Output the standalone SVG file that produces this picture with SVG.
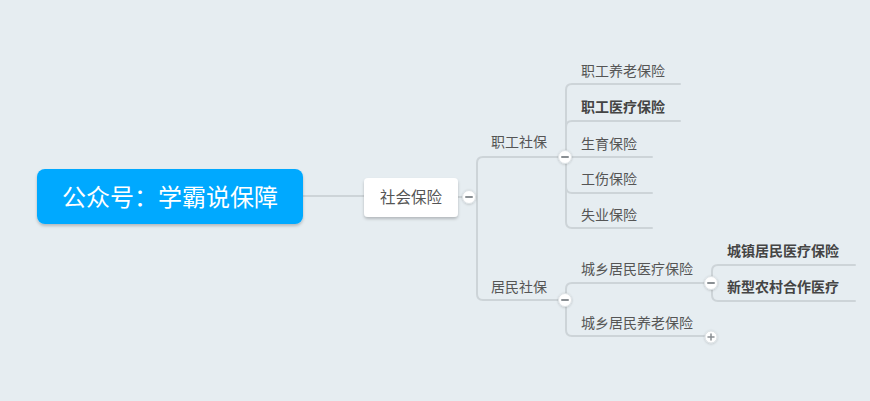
<svg xmlns="http://www.w3.org/2000/svg" width="870" height="401" viewBox="0 0 870 401">
<defs>
<filter id="sh" x="-20%" y="-30%" width="140%" height="170%">
<feDropShadow dx="0" dy="2" stdDeviation="1.5" flood-color="#000" flood-opacity="0.22"/>
</filter>
<filter id="cs" x="-50%" y="-50%" width="200%" height="200%">
<feDropShadow dx="0" dy="0.5" stdDeviation="0.8" flood-color="#000" flood-opacity="0.2"/>
</filter>
<style>
.ln{fill:none;stroke:#cdd4d8;stroke-width:2;stroke-linecap:round}
.t{font-family:"Microsoft YaHei","Noto Sans CJK SC",sans-serif;font-size:14px;fill:#555}
.b{font-weight:bold;fill:#444}
.cc{fill:#fff;stroke:#dde2e5;stroke-width:1;filter:url(#cs)}
.cm{stroke:#8a8f93;stroke-width:2;stroke-linecap:round}
</style>
</defs>
<rect width="870" height="401" fill="#e6edf1"/>
<g id="connectors">
<path class="ln" d="M303,196 H364"/>
<path class="ln" d="M458,197 H477"/>
<path class="ln" d="M565,157 H483 Q477,157 477,163 V294 Q477,300 483,300 H565"/>
<path class="ln" d="M566,157 V90 Q566,84 572,84 H680"/>
<path class="ln" d="M566,157 V127 Q566,121 572,121 H680"/>
<path class="ln" d="M565,157 H652"/>
<path class="ln" d="M566,157 V187 Q566,193 572,193 H652"/>
<path class="ln" d="M566,157 V222 Q566,228 572,228 H652"/>
<path class="ln" d="M566,300 V289 Q566,283 572,283 H711"/>
<path class="ln" d="M566,300 V330 Q566,336 572,336 H711"/>
<path class="ln" d="M712,283 V271 Q712,265 718,265 H855"/>
<path class="ln" d="M712,283 V295 Q712,301 718,301 H855"/>
</g>
<g id="root">
<rect x="37" y="169" width="266" height="55" rx="8" fill="#00a9ff" filter="url(#sh)"/>
<text x="170" y="206" text-anchor="middle" font-family="'Microsoft YaHei','Noto Sans CJK SC',sans-serif" font-size="24" fill="#fff">公众号：学霸说保障</text>
</g>
<g id="shehuibaoxian">
<rect x="364" y="178" width="94" height="39" rx="4" fill="#fff" filter="url(#sh)"/>
<text x="411" y="203" text-anchor="middle" class="t" style="font-size:15.5px">社会保险</text>
<circle class="cc" cx="469" cy="197" r="6.5"/>
<path class="cm" d="M466,197 H472"/>
</g>
<g id="zhigongshebao">
<text x="491" y="147" class="t">职工社保</text>
<circle class="cc" cx="565" cy="157" r="6.5"/>
<path class="cm" d="M562,157 H568"/>
</g>
<g id="jumin-shebao">
<text x="491" y="292" class="t">居民社保</text>
<circle class="cc" cx="565" cy="300" r="6.5"/>
<path class="cm" d="M562,300 H568"/>
</g>
<g id="zhigong-yanglao"><text x="581" y="76" class="t">职工养老保险</text></g>
<g id="zhigong-yiliao"><text x="581" y="112" class="t b">职工医疗保险</text></g>
<g id="shengyu"><text x="581" y="149" class="t">生育保险</text></g>
<g id="gongshang"><text x="581" y="184" class="t">工伤保险</text></g>
<g id="shiye"><text x="581" y="220" class="t">失业保险</text></g>
<g id="chengxiang-yiliao">
<text x="581" y="274" class="t">城乡居民医疗保险</text>
<circle class="cc" cx="711" cy="283" r="6.5"/>
<path class="cm" d="M708,283 H714"/>
</g>
<g id="chengxiang-yanglao">
<text x="581" y="328" class="t">城乡居民养老保险</text>
<circle class="cc" cx="711" cy="337" r="6"/>
<path class="cm" d="M708,337 H714 M711,334 V340" style="stroke-width:1.5"/>
</g>
<g id="chengzhen"><text x="727" y="256" class="t b">城镇居民医疗保险</text></g>
<g id="xinnonghe"><text x="727" y="292" class="t b">新型农村合作医疗</text></g>
</svg>
